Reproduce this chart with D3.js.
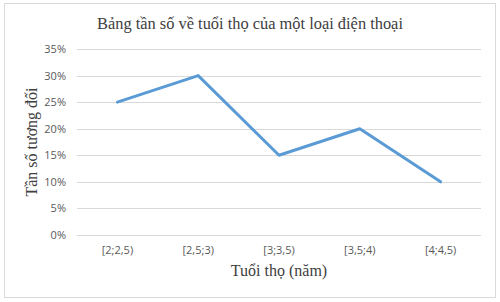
<!DOCTYPE html>
<html><head><meta charset="utf-8">
<script src="https://cdn.jsdelivr.net/npm/d3@7"></script>
<style>body{margin:0;background:#fff}svg{display:block}</style>
</head><body>
<script>
const categories = ["[2;2,5)", "[2,5;3)", "[3;3,5)", "[3,5;4)", "[4;4,5)"];
const values = [0.25, 0.30, 0.15, 0.20, 0.10];
const yTicks = [0, 0.05, 0.10, 0.15, 0.20, 0.25, 0.30, 0.35];
const title = "Bảng tần số về tuổi thọ của một loại điện thoại";
const xTitle = "Tuổi thọ (năm)";
const yTitle = "Tần số tương đối";

(function () {
const W = 500, H = 302;
const svg = d3.select("body").append("svg").attr("width", W).attr("height", H);
svg.append("rect").attr("x", 4.5).attr("y", 3.5).attr("width", 491).attr("height", 294)
  .attr("fill", "#fff").attr("stroke", "#d9d9d9");

const mLeft = 77, mRight = 481, mTop = 49, mBottom = 235;
const x = d3.scaleBand().domain(categories).range([mLeft, mRight]);
const y = d3.scaleLinear().domain([0, 0.35]).range([mBottom, mTop]);

const grid = svg.append("g");
grid.selectAll("line").data(yTicks).join("line")
  .attr("x1", mLeft).attr("x2", mRight)
  .attr("y1", d => Math.round(y(d)) + 0.5).attr("y2", d => Math.round(y(d)) + 0.5)
  .attr("stroke", "#d9d9d9").attr("stroke-width", 1);

const yAxis = svg.append("g").attr("transform", `translate(${mLeft},0)`)
  .call(d3.axisLeft(y).tickValues(yTicks).tickFormat(d3.format(".0%")).tickSize(0).tickPadding(11));
yAxis.select(".domain").remove();
yAxis.selectAll("text").attr("fill", "#595959").style("font-family", "Open Sans, Liberation Sans, sans-serif").style("font-size", "11px");

const xAxis = svg.append("g").attr("transform", `translate(0,${mBottom})`)
  .call(d3.axisBottom(x).tickSize(0).tickPadding(11));
xAxis.select(".domain").remove();
xAxis.selectAll("text").attr("fill", "#595959").style("font-family", "Open Sans, Liberation Sans, sans-serif").style("font-size", "11px");

const line = d3.line().x((d, i) => x(categories[i]) + x.bandwidth() / 2).y(d => y(d));
svg.append("path").datum(values).attr("d", line).attr("fill", "none")
  .attr("stroke", "#5b9bd5").attr("stroke-width", 3).attr("stroke-linejoin", "round").attr("stroke-linecap", "round");

svg.append("text").attr("x", 250).attr("y", 29).attr("text-anchor", "middle")
  .style("font-family", "Liberation Serif, serif").style("font-size", "16.4px").attr("fill", "#404040").text(title);
svg.append("text").attr("x", 279).attr("y", 276).attr("text-anchor", "middle")
  .style("font-family", "Liberation Serif, serif").style("font-size", "16px").attr("fill", "#404040").text(xTitle);
svg.append("text").attr("transform", "translate(37,142) rotate(-90)").attr("text-anchor", "middle")
  .style("font-family", "Liberation Serif, serif").style("font-size", "16px").attr("fill", "#404040").text(yTitle);
})();
</script>
</body></html>
